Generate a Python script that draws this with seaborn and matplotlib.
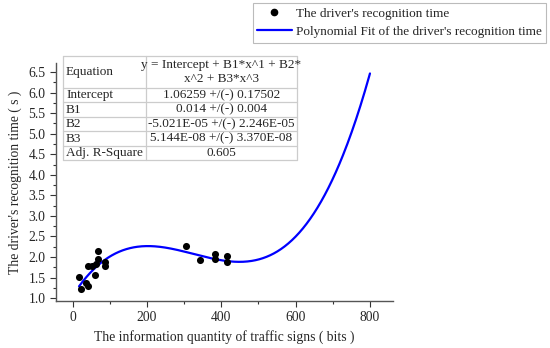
import numpy as np
import pandas as pd
import matplotlib
matplotlib.use("Agg")
import matplotlib.pyplot as plt
import seaborn as sns
from matplotlib.lines import Line2D

# data
info_bits = [17, 22, 37, 40, 40, 53, 59, 64, 67, 67, 88, 88,
             305, 343, 382, 382, 414, 414]
recog_time = [1.52, 1.21, 1.36, 1.30, 1.78, 1.79, 1.57, 1.83, 2.15, 1.96, 1.89, 1.79,
              2.27, 1.92, 2.08, 1.96, 2.03, 1.87]

# fit coefficients as printed in the table
fit_coef = [1.06259, 0.014, -5.021e-05, 5.144e-08]
fit_range = [17, 800]

table_names = ["Equation", "Intercept", "B1", "B2", "B3", "Adj. R-Square"]
table_values = ["y = Intercept + B1*x^1 + B2*\nx^2 + B3*x^3",
                "1.06259 +/(-) 0.17502",
                "0.014 +/(-) 0.004",
                "-5.021E-05 +/(-) 2.246E-05",
                "5.144E-08 +/(-) 3.370E-08",
                "0.605"]

sns.set_style("ticks")
plt.rcParams["font.family"] = ["Liberation Serif", "DejaVu Serif"]
plt.rcParams["font.size"] = 9.5

W, H = 550, 348
fig = plt.figure(figsize=(W / 100, H / 100), dpi=100)


def fx(px):
    return px / W


def fy(py):
    return 1 - py / H


ax = fig.add_axes([fx(56), fy(301), fx(393) - fx(56), fy(63) - fy(301)])

scatter_df = pd.DataFrame({"x": info_bits, "y": recog_time})
sns.scatterplot(data=scatter_df, x="x", y="y", ax=ax, color="black", s=26,
                edgecolor="black", linewidth=0, zorder=3)

xs = np.linspace(fit_range[0], fit_range[1], 400)
ys = np.polyval(fit_coef[::-1], xs)
fit_df = pd.DataFrame({"x": xs, "y": ys})
sns.lineplot(data=fit_df, x="x", y="y", ax=ax, color="#0000ff", linewidth=1.6, zorder=2)

ax.set_xlim(-45, 862)
ax.set_ylim(0.93, 6.72)
ax.set_xticks([0, 200, 400, 600, 800])
ax.set_xticks([100, 300, 500, 700], minor=True)
ax.set_yticks(np.arange(1.0, 6.6, 0.5))
ax.set_yticks(np.arange(1.25, 6.6, 0.5), minor=True)
ax.yaxis.set_major_formatter(matplotlib.ticker.FormatStrFormatter("%.1f"))
ax.tick_params(which="major", length=4, width=0.8, color="#333333", labelsize=9.8)
ax.tick_params(which="minor", length=2.5, width=0.8, color="#333333")
for side in ["left", "bottom"]:
    ax.spines[side].set_color("#555555")
    ax.spines[side].set_linewidth(1.0)
sns.despine(ax=ax)

ax.set_xlabel("The information quantity of traffic signs ( bits )", fontsize=9.8, labelpad=4)
ax.set_ylabel("The driver's recognition time ( s )", fontsize=9.8, labelpad=5)

# parameter table inside the plot
col_x = [63, 146, 297]
row_y = [56, 88, 102, 117, 131, 146, 160]
grid_kw = dict(color="#cccccc", linewidth=0.9, transform=fig.transFigure)
for yy in row_y:
    fig.add_artist(Line2D([fx(col_x[0]), fx(col_x[2])], [fy(yy), fy(yy)], **grid_kw))
for xx in col_x:
    fig.add_artist(Line2D([fx(xx), fx(xx)], [fy(row_y[0]), fy(row_y[-1])], **grid_kw))
for i, (name, val) in enumerate(zip(table_names, table_values)):
    yc = (row_y[i] + row_y[i + 1]) / 2
    fig.text(fx(col_x[0] + 3), fy(yc), name, ha="left", va="center", fontsize=9.5)
    fig.text(fx((col_x[1] + col_x[2]) / 2), fy(yc), val, ha="center", va="center",
             fontsize=9.5, linespacing=1.2)

handles = [Line2D([], [], marker="o", color="black", linestyle="none", markersize=4.5),
           Line2D([], [], color="#0000ff", linewidth=1.6)]
labels = ["The driver's recognition time",
          "Polynomial Fit of the driver's recognition time"]
leg = fig.legend(handles, labels, loc="upper right", bbox_to_anchor=(fx(546), fy(3)),
                 frameon=True, fancybox=False, fontsize=9.5, handlelength=2.6,
                 handletextpad=0.3, borderpad=0.35, labelspacing=0.45, borderaxespad=0)
leg.get_frame().set_edgecolor("#aaaaaa")
leg.get_frame().set_linewidth(0.8)

fig.savefig("out.png", dpi=100)
